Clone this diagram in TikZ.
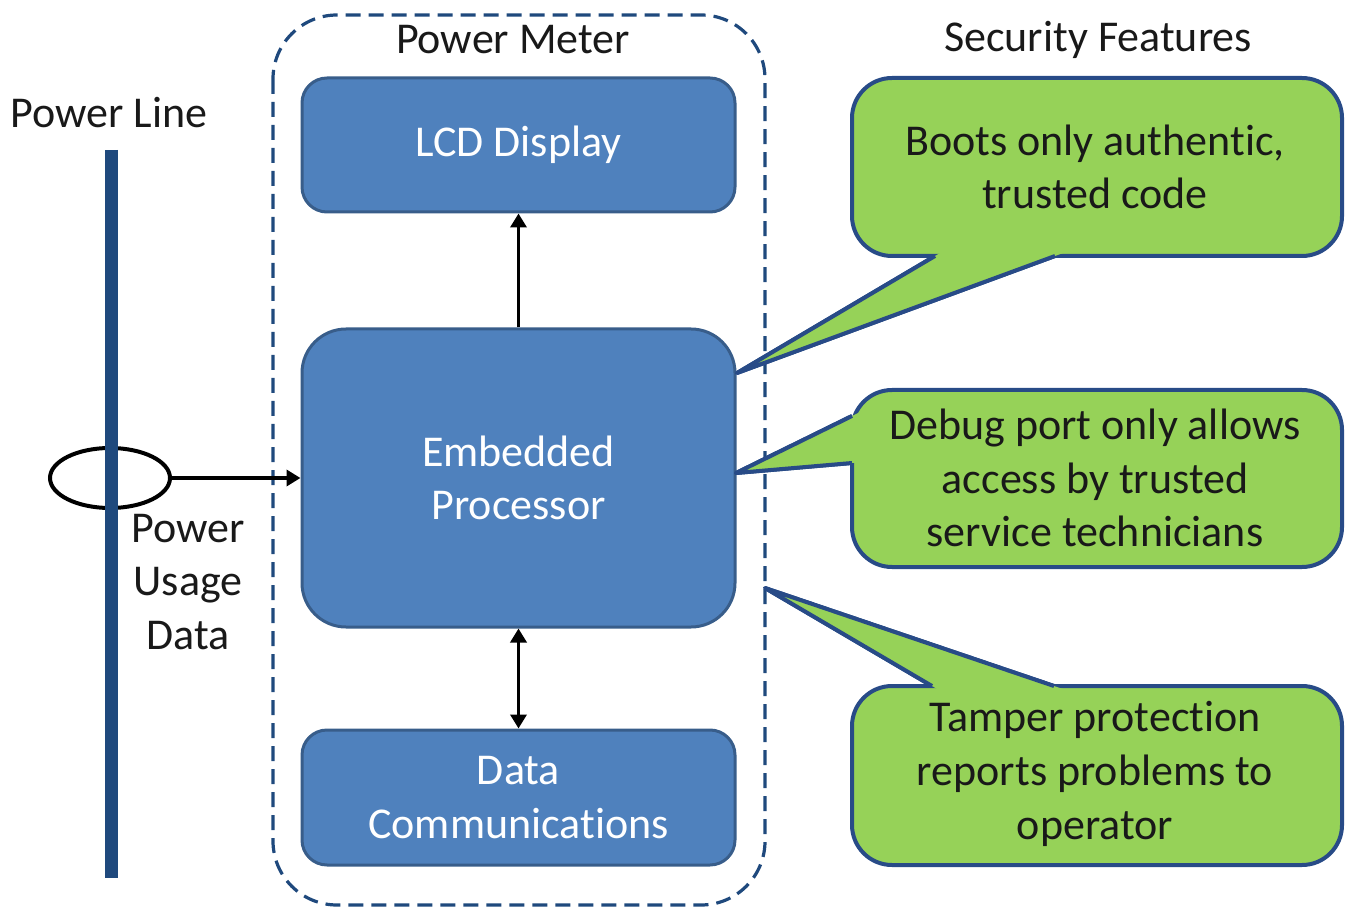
\documentclass[tikz,border=0pt]{standalone}
\usepackage{fontspec}
\setmainfont{Carlito}[Ligatures={NoCommon,NoRare,NoContextual}]
\usetikzlibrary{arrows.meta,shapes.geometric,calc}

\definecolor{boxblue}{RGB}{79,129,189}
\definecolor{boxedge}{RGB}{56,93,138}
\definecolor{lineblue}{RGB}{31,73,125}
\definecolor{callgreen}{RGB}{150,210,88}
\definecolor{calledge}{RGB}{40,75,135}
\definecolor{inkgray}{RGB}{25,25,25}

\tikzset{
  txt/.style={font=\fontsize{22}{26.8}\selectfont, text=inkgray, align=center, inner sep=0pt},
  block/.style={rectangle, rounded corners=#1, fill=boxblue, draw=boxedge, line width=1.5pt,
    minimum width=216.5pt, align=center, text=white, inner sep=0pt,
    font=\fontsize{22}{26.8}\selectfont},
  callout/.style={rectangle, rounded corners=20pt, fill=callgreen, draw=calledge, line width=2pt,
    minimum width=245pt, inner sep=0pt},
  ptrfill/.style={fill=callgreen},
  ptredge/.style={draw=calledge, line width=2pt, line join=round},
  flow/.style={black, line width=1.8pt, -{Triangle[length=7pt,width=8pt]}},
  flowboth/.style={black, line width=1.8pt, {Triangle[length=7pt,width=8pt]}-{Triangle[length=7pt,width=8pt]}},
}

\begin{document}
\begin{tikzpicture}[x=0.5pt,y=-0.5pt]
\useasboundingbox (0,0) rectangle (1347,908);

% meter enclosure
\draw[lineblue, line width=1.6pt, dash pattern=on 7.5pt off 4pt, rounded corners=32pt]
  (273,15) rectangle (765,905);
\node[txt] (meterlbl) at (513,40) {Power Meter};

% blocks inside the meter
\node[block=12.5pt, minimum height=67pt] (lcd) at (518.5,145) {LCD Display};
\node[block=22pt, minimum height=149pt] (proc) at (518.5,478) {Embedded\\Processor};
\node[block=12.5pt, minimum height=67.5pt] (comm) at (518.5,797.5) {Data\\Communications};

\draw[flow] (proc.north) -- (lcd.south);
\draw[flowboth] (proc.south) -- (comm.north);

% power line with current probe
\node[txt, anchor=west] (linelbl) at (10,113) {Power Line};
\node[ellipse, draw=black, line width=2pt, minimum width=60pt, minimum height=30pt, inner sep=0pt]
  (probe) at (110,478) {};
\coordinate (lineTop) at (111,150);
\coordinate (lineBot) at (111,878);
\draw[lineblue, line width=6.5pt] (lineTop) -- (lineBot);
\draw[flow] (probe.east) -- (proc.west);
\node[txt] (usage) at (188,582) {Power\\Usage\\Data};

% security feature callouts
\node[txt] (seclbl) at (1098,40) {Security Features};

\coordinate (t1) at (737,373);
\coordinate (a1) at (935,256);
\coordinate (b1) at (1055,256);
\coordinate (t2) at (736,473);
\coordinate (a2) at (852,416);
\coordinate (b2) at (852,463);
\coordinate (t3) at (765,588);
\coordinate (a3) at (932,686);
\coordinate (b3) at (1054,686);

\draw[ptrfill, ptredge] (a1) -- (t1) -- (b1);
\draw[ptrfill, ptredge] (a2) -- (t2) -- (b2);
\draw[ptrfill, ptredge] (a3) -- (t3) -- (b3);

\node[callout, minimum height=89pt] (c1) at (1097,167) {};
\node[callout, minimum height=88.5pt] (c2) at (1097,478.5) {};
\node[callout, minimum height=89.5pt] (c3) at (1097,775.5) {};

% merge each pointer into its callout body
\fill[callgreen] (t1) -- ($(t1)!1.1!(a1)$) -- ($(t1)!1.1!(b1)$) -- cycle;
\fill[callgreen] (t2) -- ($(t2)!1.1!(a2)$) -- ($(t2)!1.1!(b2)$) -- cycle;
\fill[callgreen] (t3) -- ($(t3)!1.1!(a3)$) -- ($(t3)!1.1!(b3)$) -- cycle;
\draw[ptredge] (a1) -- (t1) -- (b1);
\draw[ptredge] (a2) -- (t2) -- (b2);
\draw[ptredge] (a3) -- (t3) -- (b3);

\node[txt] (c1txt) at (1095,167) {Boots only authentic,\\trusted code};
\node[txt] (c2txt) at (1095,478) {Debug port only allows\\access by trusted\\service technicians};
\node[txt] (c3txt) at (1095,774) {Tamper protection\\reports problems to\\operator};
\end{tikzpicture}
\end{document}
